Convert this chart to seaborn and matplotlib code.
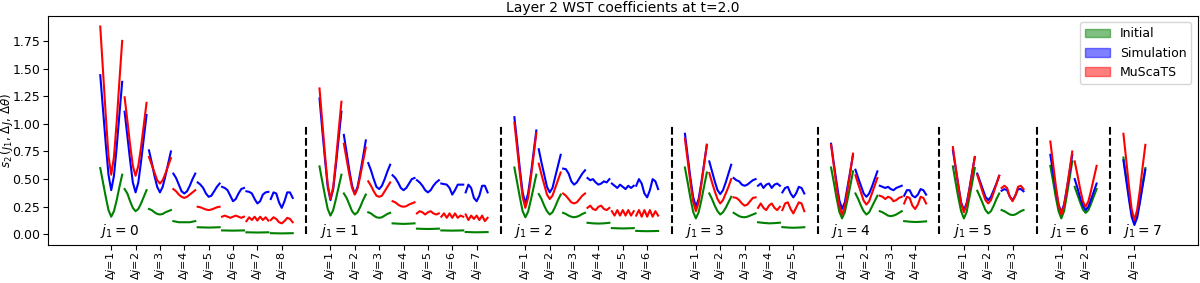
import numpy as np
import pandas as pd
import matplotlib
matplotlib.use("Agg")
import matplotlib.pyplot as plt
from matplotlib.patches import Patch
from matplotlib.ticker import MultipleLocator, FormatStrFormatter
import seaborn as sns

# Layer 2 WST coefficients, one list per delta_j inside each j1 group
# (values sampled across delta_theta, read off the reference)
INIT_J0 = [
    [0.60, 0.47, 0.34, 0.22, 0.16, 0.21, 0.31, 0.43, 0.54],
    [0.41, 0.37, 0.30, 0.24, 0.21, 0.23, 0.28, 0.34, 0.40],
    [0.23, 0.22, 0.20, 0.185, 0.18, 0.185, 0.20, 0.21, 0.22],
    [0.12, 0.115, 0.11, 0.11, 0.11, 0.11, 0.11, 0.115, 0.12],
    [0.065, 0.063, 0.062, 0.063, 0.065],
    [0.036, 0.035, 0.034, 0.035, 0.036],
    [0.019, 0.018, 0.017, 0.018, 0.019],
    [0.011, 0.010, 0.009, 0.010, 0.011],
]
SIM_J0 = [
    [1.44, 1.13, 0.82, 0.54, 0.40, 0.53, 0.79, 1.09, 1.38],
    [1.11, 0.89, 0.67, 0.47, 0.38, 0.47, 0.66, 0.87, 1.08],
    [0.76, 0.65, 0.53, 0.43, 0.38, 0.43, 0.53, 0.64, 0.75],
    [0.55, 0.51, 0.45, 0.39, 0.37, 0.39, 0.44, 0.50, 0.55],
    [0.47, 0.45, 0.42, 0.37, 0.34, 0.35, 0.39, 0.43, 0.46],
    [0.43, 0.42, 0.40, 0.35, 0.30, 0.32, 0.37, 0.41, 0.42],
    [0.39, 0.385, 0.37, 0.32, 0.28, 0.30, 0.36, 0.38, 0.385],
    [0.32, 0.38, 0.37, 0.29, 0.24, 0.30, 0.38, 0.38, 0.33],
]
MUS_J0 = [
    [1.88, 1.48, 1.08, 0.71, 0.54, 0.70, 1.02, 1.39, 1.75],
    [1.24, 1.03, 0.81, 0.62, 0.53, 0.62, 0.79, 0.99, 1.19],
    [0.70, 0.63, 0.56, 0.49, 0.46, 0.49, 0.55, 0.62, 0.69],
    [0.41, 0.39, 0.36, 0.34, 0.33, 0.34, 0.36, 0.38, 0.40],
    [0.25, 0.245, 0.235, 0.225, 0.22, 0.225, 0.235, 0.245, 0.25],
    [0.16, 0.17, 0.16, 0.15, 0.16, 0.17, 0.16, 0.15, 0.16],
    [0.12, 0.155, 0.13, 0.16, 0.125, 0.16, 0.13, 0.155, 0.125],
    [0.13, 0.155, 0.14, 0.11, 0.10, 0.12, 0.15, 0.14, 0.11],
]

INIT_J1 = [
    [0.615, 0.48, 0.35, 0.23, 0.17, 0.22, 0.32, 0.43, 0.54],
    [0.37, 0.33, 0.27, 0.21, 0.18, 0.20, 0.25, 0.31, 0.36],
    [0.20, 0.19, 0.17, 0.155, 0.15, 0.155, 0.17, 0.185, 0.195],
    [0.10, 0.097, 0.095, 0.097, 0.10],
    [0.052, 0.050, 0.049, 0.050, 0.052],
    [0.036, 0.035, 0.034, 0.035, 0.036],
    [0.022, 0.020, 0.019, 0.020, 0.021],
]
SIM_J1 = [
    [1.23, 0.95, 0.68, 0.43, 0.31, 0.41, 0.63, 0.87, 1.11],
    [0.90, 0.74, 0.58, 0.44, 0.365, 0.43, 0.56, 0.70, 0.85],
    [0.645, 0.58, 0.50, 0.43, 0.41, 0.44, 0.50, 0.57, 0.63],
    [0.535, 0.51, 0.47, 0.42, 0.40, 0.42, 0.46, 0.50, 0.51],
    [0.49, 0.47, 0.44, 0.40, 0.38, 0.40, 0.44, 0.47, 0.49],
    [0.46, 0.455, 0.45, 0.42, 0.36, 0.40, 0.45, 0.45, 0.45],
    [0.38, 0.45, 0.42, 0.33, 0.30, 0.35, 0.44, 0.44, 0.38],
]
MUS_J1 = [
    [1.32, 1.02, 0.72, 0.45, 0.32, 0.43, 0.67, 0.94, 1.20],
    [0.82, 0.68, 0.54, 0.42, 0.36, 0.415, 0.53, 0.66, 0.785],
    [0.48, 0.44, 0.39, 0.35, 0.34, 0.35, 0.39, 0.43, 0.47],
    [0.30, 0.29, 0.27, 0.255, 0.25, 0.255, 0.27, 0.28, 0.29],
    [0.19, 0.21, 0.20, 0.18, 0.20, 0.21, 0.19, 0.18, 0.19],
    [0.16, 0.19, 0.15, 0.19, 0.15, 0.19, 0.15, 0.17, 0.16],
    [0.18, 0.13, 0.17, 0.14, 0.17, 0.13, 0.17, 0.12, 0.15],
]

INIT_J2 = [
    [0.605, 0.47, 0.335, 0.21, 0.155, 0.205, 0.31, 0.425, 0.54],
    [0.365, 0.32, 0.26, 0.21, 0.18, 0.20, 0.25, 0.31, 0.36],
    [0.195, 0.185, 0.17, 0.16, 0.155, 0.16, 0.17, 0.185, 0.195],
    [0.105, 0.100, 0.098, 0.100, 0.105],
    [0.057, 0.055, 0.054, 0.055, 0.057],
    [0.032, 0.030, 0.029, 0.030, 0.031],
]
SIM_J2 = [
    [1.06, 0.83, 0.59, 0.38, 0.28, 0.37, 0.54, 0.74, 0.94],
    [0.77, 0.65, 0.54, 0.43, 0.38, 0.42, 0.52, 0.62, 0.72],
    [0.595, 0.59, 0.55, 0.48, 0.45, 0.47, 0.51, 0.55, 0.58],
    [0.51, 0.49, 0.50, 0.47, 0.45, 0.46, 0.48, 0.47, 0.50],
    [0.46, 0.44, 0.42, 0.45, 0.43, 0.41, 0.44, 0.42, 0.44],
    [0.44, 0.50, 0.46, 0.37, 0.335, 0.40, 0.50, 0.48, 0.41],
]
MUS_J2 = [
    [1.01, 0.78, 0.55, 0.34, 0.24, 0.33, 0.51, 0.71, 0.915],
    [0.64, 0.54, 0.45, 0.36, 0.32, 0.35, 0.42, 0.49, 0.56],
    [0.37, 0.35, 0.32, 0.29, 0.28, 0.29, 0.32, 0.35, 0.37],
    [0.24, 0.26, 0.23, 0.22, 0.25, 0.26, 0.23, 0.22, 0.24],
    [0.21, 0.17, 0.22, 0.17, 0.22, 0.17, 0.22, 0.17, 0.21],
    [0.17, 0.22, 0.16, 0.22, 0.16, 0.22, 0.16, 0.21, 0.17],
]

INIT_J3 = [
    [0.605, 0.47, 0.33, 0.205, 0.145, 0.20, 0.31, 0.435, 0.56],
    [0.37, 0.32, 0.26, 0.21, 0.18, 0.20, 0.24, 0.29, 0.34],
    [0.195, 0.18, 0.165, 0.157, 0.155, 0.16, 0.17, 0.18, 0.19],
    [0.110, 0.104, 0.100, 0.102, 0.106],
    [0.066, 0.062, 0.060, 0.062, 0.065],
]
SIM_J3 = [
    [0.91, 0.71, 0.51, 0.34, 0.25, 0.32, 0.47, 0.64, 0.81],
    [0.66, 0.57, 0.48, 0.40, 0.365, 0.40, 0.47, 0.55, 0.63],
    [0.51, 0.49, 0.48, 0.45, 0.44, 0.45, 0.47, 0.49, 0.50],
    [0.44, 0.46, 0.42, 0.45, 0.46, 0.42, 0.45, 0.46, 0.44],
    [0.38, 0.42, 0.43, 0.37, 0.335, 0.37, 0.43, 0.42, 0.37],
]
MUS_J3 = [
    [0.865, 0.67, 0.47, 0.295, 0.21, 0.29, 0.45, 0.63, 0.81],
    [0.555, 0.47, 0.39, 0.32, 0.28, 0.31, 0.37, 0.43, 0.50],
    [0.335, 0.33, 0.31, 0.28, 0.26, 0.27, 0.30, 0.33, 0.335],
    [0.24, 0.28, 0.24, 0.22, 0.26, 0.28, 0.24, 0.22, 0.25],
    [0.22, 0.28, 0.29, 0.23, 0.19, 0.24, 0.29, 0.28, 0.21],
]

INIT_J4 = [
    [0.605, 0.47, 0.33, 0.205, 0.145, 0.20, 0.315, 0.44, 0.57],
    [0.37, 0.32, 0.26, 0.21, 0.18, 0.20, 0.25, 0.30, 0.35],
    [0.21, 0.20, 0.185, 0.17, 0.165, 0.17, 0.18, 0.195, 0.21],
    [0.120, 0.115, 0.112, 0.114, 0.118],
]
SIM_J4 = [
    [0.82, 0.64, 0.47, 0.31, 0.23, 0.29, 0.43, 0.57, 0.72],
    [0.585, 0.51, 0.44, 0.37, 0.34, 0.37, 0.43, 0.50, 0.57],
    [0.44, 0.43, 0.42, 0.43, 0.41, 0.40, 0.42, 0.43, 0.44],
    [0.35, 0.40, 0.40, 0.35, 0.335, 0.36, 0.41, 0.40, 0.36],
]
MUS_J4 = [
    [0.81, 0.62, 0.43, 0.26, 0.18, 0.25, 0.40, 0.565, 0.73],
    [0.535, 0.455, 0.38, 0.305, 0.27, 0.30, 0.37, 0.44, 0.51],
    [0.35, 0.34, 0.32, 0.34, 0.33, 0.30, 0.31, 0.33, 0.34],
    [0.28, 0.34, 0.33, 0.26, 0.23, 0.27, 0.34, 0.33, 0.28],
]

INIT_J5 = [
    [0.615, 0.47, 0.33, 0.21, 0.145, 0.20, 0.33, 0.46, 0.60],
    [0.395, 0.34, 0.28, 0.22, 0.19, 0.21, 0.26, 0.32, 0.37],
    [0.22, 0.21, 0.195, 0.18, 0.175, 0.18, 0.195, 0.21, 0.22],
]
SIM_J5 = [
    [0.76, 0.60, 0.44, 0.29, 0.22, 0.28, 0.41, 0.56, 0.70],
    [0.55, 0.48, 0.41, 0.34, 0.31, 0.34, 0.40, 0.46, 0.53],
    [0.395, 0.41, 0.40, 0.34, 0.31, 0.35, 0.41, 0.41, 0.39],
]
MUS_J5 = [
    [0.79, 0.61, 0.44, 0.28, 0.20, 0.265, 0.40, 0.55, 0.70],
    [0.54, 0.46, 0.38, 0.31, 0.28, 0.31, 0.38, 0.455, 0.53],
    [0.42, 0.44, 0.42, 0.34, 0.30, 0.35, 0.43, 0.44, 0.41],
]

INIT_J6 = [
    [0.62, 0.48, 0.335, 0.21, 0.145, 0.21, 0.35, 0.505, 0.66],
    [0.43, 0.36, 0.29, 0.225, 0.195, 0.22, 0.28, 0.345, 0.41],
]
SIM_J6 = [
    [0.72, 0.56, 0.41, 0.27, 0.20, 0.27, 0.41, 0.56, 0.72],
    [0.50, 0.42, 0.33, 0.26, 0.22, 0.25, 0.32, 0.39, 0.46],
]
MUS_J6 = [
    [0.84, 0.64, 0.44, 0.265, 0.18, 0.255, 0.41, 0.58, 0.75],
    [0.66, 0.54, 0.41, 0.30, 0.25, 0.30, 0.40, 0.51, 0.62],
]

INIT_J7 = [[0.695, 0.52, 0.35, 0.19, 0.115, 0.18, 0.31, 0.455, 0.60]]
SIM_J7 = [[0.67, 0.495, 0.32, 0.16, 0.085, 0.15, 0.285, 0.435, 0.585]]
MUS_J7 = [[0.91, 0.68, 0.44, 0.23, 0.13, 0.22, 0.40, 0.61, 0.81]]

SERIES = ["Initial", "Simulation", "MuScaTS"]
COLORS = {"Initial": "green", "Simulation": "blue", "MuScaTS": "red"}
DATA = {
    "Initial": [INIT_J0, INIT_J1, INIT_J2, INIT_J3, INIT_J4, INIT_J5, INIT_J6, INIT_J7],
    "Simulation": [SIM_J0, SIM_J1, SIM_J2, SIM_J3, SIM_J4, SIM_J5, SIM_J6, SIM_J7],
    "MuScaTS": [MUS_J0, MUS_J1, MUS_J2, MUS_J3, MUS_J4, MUS_J5, MUS_J6, MUS_J7],
}
N_J1 = 8


def build_frame():
    # one row per sample; each delta_j segment sits on its own tick slot,
    # with an empty slot between j1 groups
    rows = []
    tick_pos, tick_lab, group_start = [], [], []
    pos = 0
    for j1 in range(N_J1):
        group_start.append(pos)
        for k in range(N_J1 - j1):
            tick_pos.append(pos)
            tick_lab.append(r"$\Delta j$=%d" % (k + 1))
            for name in SERIES:
                vals = DATA[name][j1][k]
                xs = np.linspace(pos - 0.45, pos + 0.45, len(vals))
                for x, v in zip(xs, vals):
                    rows.append({"x": x, "value": v, "series": name,
                                 "seg": f"{j1}-{k}-{name}"})
            pos += 1
        pos += 1
    return pd.DataFrame(rows), tick_pos, tick_lab, group_start


df, tick_pos, tick_lab, group_start = build_frame()

fig, ax = plt.subplots(figsize=(12, 2.83), dpi=100)
sns.lineplot(data=df, x="x", y="value", hue="series", hue_order=SERIES,
             units="seg", estimator=None, sort=False, palette=COLORS,
             linewidth=1.5, legend=False, ax=ax)

# separators and group labels
for j1, start in enumerate(group_start):
    if j1 > 0:
        ax.vlines(start - 1, 0, 1.0, colors="k", linestyles="--", linewidth=1.5)
    ax.text(start - 0.45, 0.03, r"$j_1 = %d$" % j1, fontsize=10,
            ha="left", va="center", fontweight="bold")

ax.set_xticks(tick_pos)
ax.set_xticklabels(tick_lab, rotation=90, fontsize=8)
ax.tick_params(axis="x", pad=1.5)
ax.yaxis.set_major_locator(MultipleLocator(0.25))
ax.yaxis.set_major_formatter(FormatStrFormatter("%.2f"))
ax.tick_params(axis="y", labelsize=9, pad=2)
ax.set_xlabel("")
ax.set_ylabel(r"$s_2\,(j_1,\,\Delta j,\,\Delta\theta)$", fontsize=8.5)
ax.yaxis.set_label_coords(-0.029, 0.5)
ax.set_title("Layer 2 WST coefficients at t=2.0", fontsize=10, pad=3)

handles = [Patch(facecolor=COLORS[s], edgecolor=COLORS[s], alpha=0.5, label=s)
           for s in SERIES]
ax.legend(handles=handles, loc="upper right", fontsize=9)

plt.subplots_adjust(left=0.04, right=0.998, top=0.943, bottom=0.135)
plt.savefig("out.png", dpi=100)
